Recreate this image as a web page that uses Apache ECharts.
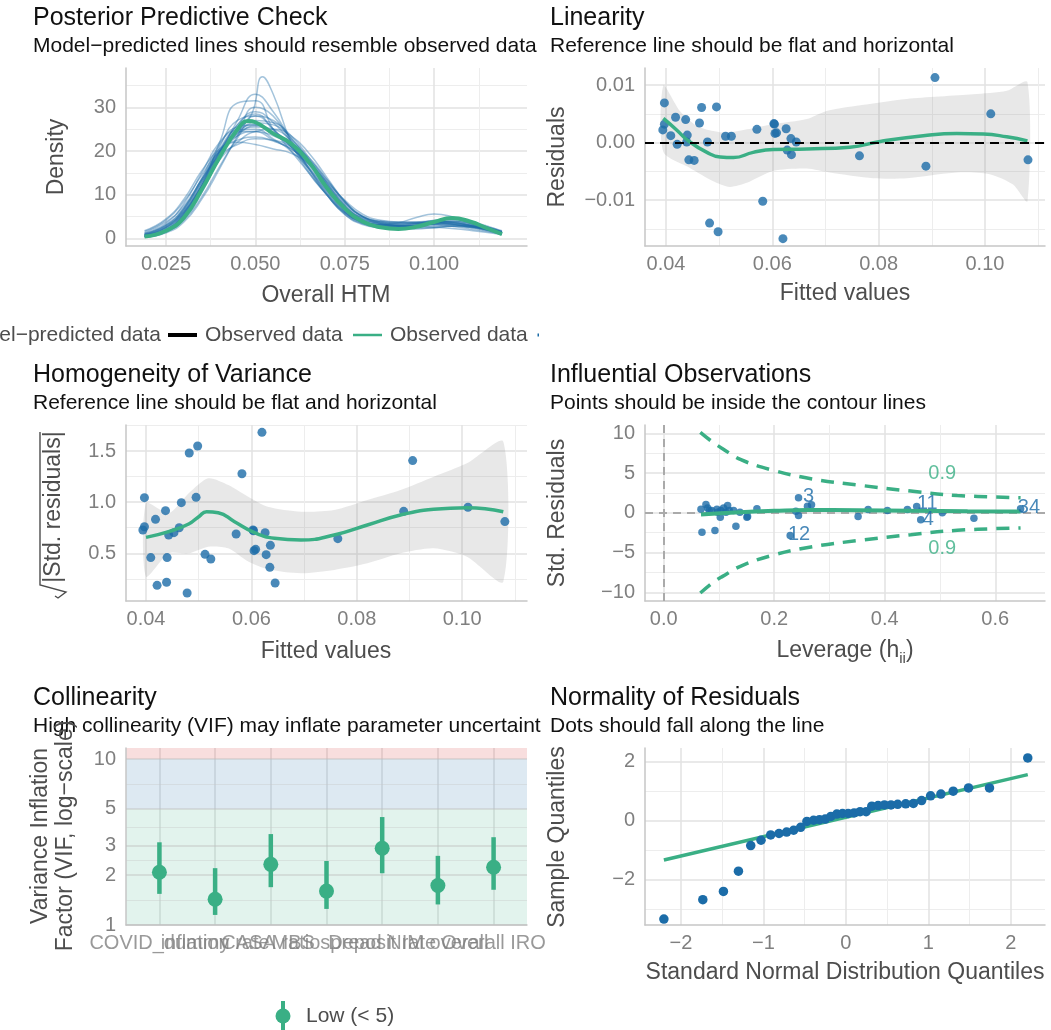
<!DOCTYPE html>
<html><head><meta charset="utf-8">
<script src="https://cdn.jsdelivr.net/npm/echarts@6/dist/echarts.min.js"></script>
<style>html,body{margin:0;padding:0;background:#fff}#c{width:1051px;height:1030px}</style>
</head><body><div id="c"></div>
<script>
// ---------------- DATA ----------------
// Posterior predictive check
const ppcX = [0.019,0.025,0.03,0.035,0.04,0.045,0.05,0.055,0.06,0.065,0.07,0.075,0.08,0.085,0.09,0.095,0.1,0.105,0.11,0.115,0.119];
const ppcPredicted = [
 [0.8,2.5,6.0,12.0,19.0,23.5,25.8,24.5,21.5,17.0,12.0,7.5,4.5,3.5,3.2,3.4,3.6,3.3,2.6,1.8,1.0],
 [1.2,3.5,8.0,15.0,22.0,24.8,25.0,22.8,20.0,16.0,11.0,7.0,4.8,4.0,3.8,3.6,3.2,2.8,2.2,1.6,1.0],
 [0.5,1.6,4.2,9.5,16.5,23.0,28.0,27.0,23.0,17.5,11.5,6.5,4.0,3.2,3.0,3.1,3.3,3.2,2.8,2.1,1.4],
 [1.8,4.5,9.0,15.5,20.5,22.5,23.2,22.3,20.5,17.0,12.5,8.0,5.0,3.8,3.4,3.5,3.8,3.6,3.0,2.2,1.5],
 [0.6,2.0,5.5,12.0,20.0,26.0,29.0,26.5,22.0,16.0,10.5,6.0,3.8,3.0,2.8,3.0,3.5,3.9,3.5,2.5,1.5],
 [1.0,3.0,6.5,13.0,19.5,24.0,26.5,26.0,23.0,18.0,12.0,7.0,4.2,3.2,3.0,3.4,4.2,4.5,3.8,2.6,1.6],
 [0.7,2.2,6.0,12.5,20.0,25.0,27.0,26.5,23.5,18.5,12.8,7.6,4.6,3.4,2.8,2.7,2.8,2.9,2.7,2.2,1.6],
 [1.3,3.8,7.5,13.5,19.0,21.5,22.8,22.5,21.0,18.0,13.5,8.5,5.0,3.5,3.2,3.6,4.0,3.8,3.1,2.3,1.5],
 [0.4,1.5,4.5,10.5,19.0,27.0,33.0,29.0,22.5,16.0,10.0,5.8,3.5,2.8,2.6,3.0,3.6,3.9,3.4,2.4,1.3],
 [0.9,2.8,6.2,12.0,18.0,22.0,24.5,25.0,23.5,19.5,14.0,8.5,5.0,3.8,3.6,3.8,4.0,3.7,3.0,2.0,1.2],
 [0.6,2.0,5.2,11.5,19.5,26.0,28.5,25.0,21.0,16.5,11.0,6.2,3.6,2.6,2.2,2.2,2.5,2.8,2.6,2.0,1.3],
 [1.1,3.2,7.0,13.5,20.5,24.5,24.5,22.5,20.5,17.5,13.0,8.2,5.0,3.6,3.0,2.8,2.6,2.3,1.9,1.4,0.9],
 [0.7,2.4,5.8,12.0,19.5,24.5,26.0,24.0,21.5,17.5,12.5,7.5,4.2,3.2,3.6,4.8,5.6,5.0,3.6,2.2,1.2],
 [0.9,2.6,6.5,13.0,20.0,24.0,25.5,25.0,22.5,18.0,12.0,7.0,4.0,3.0,2.6,2.4,2.5,2.9,3.0,2.6,1.8],
 [0.5,1.9,5.6,12.5,21.0,27.0,28.0,25.0,21.0,16.0,10.5,6.2,3.8,3.0,2.9,3.2,3.8,4.3,3.9,2.8,1.6],
 [1.6,4.2,8.5,14.5,20.0,22.0,21.5,20.5,19.5,17.0,13.0,8.8,5.6,4.2,3.8,3.8,3.6,3.2,2.6,1.9,1.2],
 [0.4,1.3,3.8,9.0,16.0,23.5,30.0,28.0,22.0,15.5,10.0,5.6,3.4,2.6,2.4,2.8,3.5,4.0,3.6,2.6,1.4],
 [0.6,2.0,5.5,12.0,22.0,31.0,31.5,25.0,20.0,15.0,10.0,6.0,3.8,3.0,2.8,3.0,3.4,3.6,3.2,2.3,1.3],
 [1.0,3.0,7.0,13.5,20.0,23.5,24.5,23.5,21.5,18.5,13.5,8.5,5.2,3.9,3.5,3.5,3.7,3.4,2.8,2.0,1.2],
 [0.8,2.6,6.8,13.8,21.5,25.5,26.0,24.0,21.0,17.5,12.2,7.2,4.4,3.3,2.9,2.9,3.1,3.2,2.9,2.2,1.3]
];
const ppcSpikeX = [0.019,0.025,0.03,0.035,0.04,0.045,0.049,0.052,0.055,0.06,0.065,0.07,0.075,0.08,0.085,0.09,0.095,0.1,0.105,0.11,0.115,0.119];
const ppcSpikeY = [0.5,1.6,4.8,11.0,19.0,24.5,28.5,37.0,33.0,22.0,15.0,10.0,5.5,3.2,2.5,2.4,2.8,3.4,3.5,3.0,2.0,1.1];
const ppcObsX = [0.019,0.025,0.03,0.035,0.04,0.045,0.048,0.05,0.055,0.06,0.065,0.07,0.075,0.08,0.085,0.09,0.095,0.1,0.105,0.11,0.115,0.119];
const ppcObsY = [0.46,1.8,4.8,11.2,18.6,25.0,26.9,26.6,24.0,21.7,17.5,11.6,6.9,3.9,2.6,2.2,2.7,3.8,4.7,3.9,2.3,1.0];

// Model observations (fitted / residuals / sqrt|std res|)
const fitted = [0.0394,0.0397,0.0397,0.0409,0.0418,0.0421,0.0437,0.0439,0.0440,0.0443,0.0453,0.0463,0.0467,0.0478,0.0482,0.0495,0.0498,0.0512,0.0523,0.0571,0.0582,0.0603,0.0604,0.0605,0.0608,0.0620,0.0626,0.0628,0.0635,0.0636,0.0645,0.0764,0.0889,0.0906,0.1011,0.1081];
const residuals = [0.0022,0.0069,0.0032,0.0012,0.0044,-0.0003,0.0040,0.0001,0.0013,-0.0030,-0.0031,0.0034,0.0061,0.0001,-0.0140,0.0062,-0.0155,0.0011,0.0011,0.0023,-0.0102,0.0033,0.0032,0.0016,0.0017,-0.0167,0.0024,-0.0013,0.0007,-0.0021,0.0001,-0.0023,-0.0041,0.0113,0.0050,-0.0030];
const sqrtAbsStdRes = [0.728,1.044,0.76,0.458,0.832,0.187,0.917,0.217,0.458,0.679,0.702,0.75,0.995,0.112,1.48,1.047,1.549,0.49,0.445,0.689,1.278,0.728,0.72,0.526,0.539,1.682,0.702,0.487,0.363,0.578,0.21,0.643,0.91,1.406,0.95,0.81];

// Linearity smooth + band
const linSmoothX = [0.0395,0.0420,0.0442,0.0477,0.0502,0.0527,0.0564,0.0602,0.0665,0.0746,0.0803,0.0884,0.0947,0.0997,0.1041,0.1080];
const linSmoothY = [0.0042,0.0022,0.0003,-0.0017,-0.0025,-0.0026,-0.0017,-0.0012,-0.0011,-0.0008,0.0002,0.0012,0.0016,0.0015,0.0010,0.0003];
const linUpperX = [0.0395,0.0426,0.0458,0.0489,0.0514,0.0552,0.0602,0.0665,0.0702,0.0759,0.0853,0.0978,0.1041,0.1080];
const linUpperY = [0.0099,0.0055,0.0029,0.0020,0.0017,0.0023,0.0032,0.0041,0.0055,0.0064,0.0076,0.0084,0.0090,0.0105];
const linLowerX = [0.0395,0.0445,0.0489,0.0520,0.0552,0.0602,0.0665,0.0708,0.0790,0.0853,0.0947,0.1009,0.1053,0.1080];
const linLowerY = [-0.0016,-0.0044,-0.0067,-0.0077,-0.0070,-0.0049,-0.0045,-0.0052,-0.0062,-0.0062,-0.0052,-0.0055,-0.0073,-0.0102];

// Homogeneity smooth + band
const homSmoothX = [0.0400,0.0443,0.0481,0.0500,0.0515,0.0537,0.0568,0.0606,0.0644,0.0694,0.0757,0.0820,0.0883,0.0946,0.1009,0.1078];
const homSmoothY = [0.656,0.712,0.787,0.858,0.907,0.897,0.809,0.702,0.647,0.630,0.679,0.777,0.875,0.930,0.946,0.907];
const homUpperX = [0.0400,0.0443,0.0481,0.0518,0.0556,0.0594,0.0631,0.0694,0.0757,0.0820,0.0883,0.0946,0.1009,0.1078];
const homUpperY = [0.989,0.891,1.086,1.233,1.168,1.054,0.956,0.907,0.923,1.021,1.119,1.249,1.379,1.591];
const homLowerX = [0.0400,0.0443,0.0481,0.0518,0.0556,0.0594,0.0631,0.0694,0.0757,0.0820,0.0883,0.0946,0.1009,0.1078];
const homLowerY = [0.272,0.500,0.500,0.565,0.549,0.419,0.344,0.305,0.337,0.402,0.500,0.549,0.467,0.223];

// Influential observations
const leverage = [0.0675,0.0693,0.0765,0.0795,0.0825,0.0867,0.0928,0.0964,0.0976,0.1024,0.1036,0.1084,0.1127,0.1157,0.1187,0.1265,0.1307,0.1380,0.1506,0.1518,0.1687,0.2289,0.2392,0.2440,0.2440,0.2602,0.2675,0.3518,0.3699,0.4048,0.4410,0.4578,0.4651,0.5042,0.5614,0.6458];
const stdResid = [0.46,-2.44,1.05,0.59,0.29,0.29,-2.23,0.46,0.08,-0.55,0.29,0.59,0.08,0.92,0.29,0.29,-1.68,0.08,-0.55,-0.46,0.50,-2.86,0.21,-0.34,1.89,0.84,1.01,-0.46,0.42,0.29,0.42,0.80,-0.88,0.00,-0.67,0.50];
const infSmoothX = [0.0675,0.1380,0.2000,0.2600,0.3500,0.4500,0.5500,0.6458];
const infSmoothY = [-0.21,0.08,0.25,0.35,0.33,0.25,0.20,0.17];
const cookUpperX = [0.0663,0.0886,0.1066,0.1398,0.1940,0.2663,0.3566,0.4470,0.5313,0.6458];
const cookUpperY = [10.13,8.9,8.07,6.68,5.42,4.29,3.45,2.73,2.18,1.9];
const cookLowerX = [0.0663,0.0886,0.1066,0.1398,0.1940,0.2663,0.3566,0.4470,0.5313,0.6458];
const cookLowerY = [-10.1,-8.8,-8.0,-6.7,-5.4,-4.3,-3.45,-2.75,-2.2,-1.9];
const infLabelText = ['3','12','11','4','34'];
const infLabelX = [0.262,0.245,0.477,0.479,0.661];
const infLabelY = [2.06,-2.77,1.13,-0.88,0.63];
const cookLabelX = [0.504,0.504];
const cookLabelY = [4.9,-4.5];

// Collinearity
const vifTerms = ['COVID_dummy','inflation rate','CASA ratio','MBS spread','Deposit rate','NIM overall','Overall IRO'];
const vifValue = [2.08,1.43,2.32,1.60,2.90,1.73,2.23];
const vifLow = [1.54,1.15,1.69,1.25,2.05,1.33,1.63];
const vifHigh = [3.15,2.20,3.53,2.43,4.47,2.61,3.38];
const vifTicks = [1,2,3,5,10];
const vifTickLabels = ['1','2','3','5','10'];
const vifMinorTicks = [1.414,2.449,3.873,7.071];

// Normality (QQ)
const qqTheo = [-2.206,-1.734,-1.484,-1.302,-1.153,-1.028,-0.911,-0.81,-0.718,-0.633,-0.548,-0.472,-0.391,-0.319,-0.25,-0.181,-0.109,-0.04,0.028,0.1,0.173,0.246,0.315,0.391,0.468,0.548,0.629,0.726,0.819,0.919,1.028,1.153,1.302,1.488,1.742,2.206];
const qqSample = [-3.35,-2.69,-2.41,-1.72,-0.85,-0.67,-0.49,-0.44,-0.39,-0.33,-0.23,-0.03,0.01,0.03,0.05,0.14,0.22,0.24,0.24,0.26,0.3,0.3,0.49,0.51,0.53,0.53,0.55,0.57,0.58,0.68,0.84,0.9,1.0,1.11,1.11,2.13];
const qqLineX = [-2.206,2.206];
const qqLineY = [-1.34,1.56];

// Tick values / labels
const ppcXTicks = [0.025,0.05,0.075,0.1], ppcXLabels = ['0.025','0.050','0.075','0.100'], ppcXMinor = [0.0375,0.0625,0.0875,0.1125];
const ppcYTicks = [0,10,20,30], ppcYLabels = ['0','10','20','30'], ppcYMinor = [5,15,25,35];
const fitXTicks = [0.04,0.06,0.08,0.10], fitXLabels = ['0.04','0.06','0.08','0.10'], fitXMinor = [0.05,0.07,0.09,0.11];
const linYTicks = [-0.01,0,0.01], linYLabels = ['\u22120.01','0.00','0.01'], linYMinor = [-0.015,-0.005,0.005];
const homYTicks = [0.5,1.0,1.5], homYLabels = ['0.5','1.0','1.5'], homYMinor = [0.25,0.75,1.25,1.75];
const infXTicks = [0,0.2,0.4,0.6], infXLabels = ['0.0','0.2','0.4','0.6'], infXMinor = [0.1,0.3,0.5];
const infYTicks = [-10,-5,0,5,10], infYLabels = ['\u221210','\u22125','0','5','10'], infYMinor = [-7.5,-2.5,2.5,7.5];
const qqXTicks = [-2,-1,0,1,2], qqXLabels = ['\u22122','\u22121','0','1','2'], qqXMinor = [-1.5,-0.5,0.5,1.5];
const qqYTicks = [-2,0,2], qqYLabels = ['\u22122','0','2'], qqYMinor = [-3,-1,1];

// ---------------- STYLE ----------------
const FONT = "'Liberation Sans', Arial, Helvetica, sans-serif";
const GREEN = '#3aaf85', BLUE = '#1b6ca8';
const TICK_C = '#7f7f7f', AXT_C = '#4d4d4d', TITLE_C = '#111';
const TICK = 20, AXT = 23, TITLE = 25, SUB = 21, LEG = 21;
const AXIS_LINE = '#c6c6c6', MAJ = '#e2e2e2', MIN = '#ededed';

const grids = [
  {left:126, top:68, width:401, height:178},
  {left:645, top:68, width:400, height:178},
  {left:126, top:425, width:401, height:176},
  {left:645, top:425, width:400, height:176},
  {left:126, top:748, width:401, height:177},
  {left:645, top:748, width:400, height:177}
].map(g => Object.assign({outerBoundsMode:'none', containLabel:false}, g));

function lab(majors, labels) {
  return v => { let b = 0; for (let i = 1; i < majors.length; i++) if (Math.abs(majors[i]-v) < Math.abs(majors[b]-v)) b = i; return labels[b]; };
}
function mkAxes(dim, g, min, max, majors, labels, minors, hideLabels) {
  const main = {
    type:'value', gridIndex:g, min, max, position: dim === 'x' ? 'bottom' : 'left',
    axisLine:{show:true, onZero:false, lineStyle:{color:AXIS_LINE, width:1.5}},
    axisTick:{show:false, customValues:majors},
    axisLabel:{show:!hideLabels, customValues:majors, formatter:lab(majors, labels), color:TICK_C, fontSize:TICK, fontFamily:FONT,
      margin: dim === 'x' ? 8 : 10, hideOverlap:false, showMinLabel:true, showMaxLabel:true},
    splitLine:{show:true, lineStyle:{color:MAJ, width:1.5}}
  };
  const minor = {
    type:'value', gridIndex:g, min, max, position: dim === 'x' ? 'bottom' : 'left',
    axisLine:{show:false, onZero:false}, axisTick:{show:false, customValues: minors.length ? minors : [max*2+1]}, axisLabel:{show:false},
    splitLine:{show: minors.length > 0, lineStyle:{color:MIN, width:1}}
  };
  return [main, minor];
}

const vifPos = vifTerms.map((t, i) => i + 1);
const xAxes = [].concat(
  mkAxes('x',0,0.0138,0.1260,ppcXTicks,ppcXLabels,ppcXMinor),
  mkAxes('x',1,0.03605,0.1113,fitXTicks,fitXLabels,fitXMinor),
  mkAxes('x',2,0.0362,0.1123,fitXTicks,fitXLabels,fitXMinor),
  mkAxes('x',3,-0.0338,0.69,infXTicks,infXLabels,infXMinor),
  mkAxes('x',4,0.4,7.6,vifPos,vifTerms,[],true),
  mkAxes('x',5,-2.435,2.415,qqXTicks,qqXLabels,qqXMinor)
);
const yAxes = [].concat(
  mkAxes('y',0,-1.7,39.0,ppcYTicks,ppcYLabels,ppcYMinor),
  mkAxes('y',1,-0.01798,0.01297,linYTicks,linYLabels,linYMinor),
  mkAxes('y',2,0.034,1.754,homYTicks,homYLabels,homYMinor),
  mkAxes('y',3,-11.1,11.05,infYTicks,infYLabels,infYMinor),
  [
    {type:'log', logBase:10, gridIndex:4, min:1, max:11.65, position:'left',
     axisLine:{show:true, onZero:false, lineStyle:{color:AXIS_LINE, width:1.5}},
     axisTick:{show:false}, axisLabel:{show:false}, splitLine:{show:false}},
    {type:'log', logBase:10, gridIndex:4, min:1, max:11.65, show:false, splitLine:{show:false}}
  ],
  mkAxes('y',5,-3.55,2.466,qqYTicks,qqYLabels,qqYMinor)
);

const zip = (a, b) => a.map((v, i) => [v, b[i]]);
function bandSeries(ax, upX, upY, loX, loY) {
  const up = zip(upX, upY), lo = zip(loX, loY);
  return {
    type:'custom', xAxisIndex:ax, yAxisIndex:ax, data:[[upX[0], upY[0]]], silent:true, z:1, clip:true,
    renderItem:(params, api) => {
      const pts = up.map(p => api.coord(p)).concat(lo.slice().reverse().map(p => api.coord(p)));
      return {type:'polygon', shape:{points:pts, smooth:0.25}, style:{fill:'rgba(140,140,140,0.2)'}};
    }
  };
}
const noMarkLabel = {show:false};
const PTS = 'rgba(27,108,168,0.8)';

const series = [];
// ---- PPC
const ppcLine = (xs, ys) => ({
  type:'line', xAxisIndex:0, yAxisIndex:0, data:zip(xs, ys), showSymbol:false, smooth:0.5,
  lineStyle:{color:'rgba(27,108,168,0.4)', width:1.5}, silent:true, z:2
});
ppcPredicted.forEach(arr => series.push(ppcLine(ppcX, arr)));
series.push(ppcLine(ppcSpikeX, ppcSpikeY));
series.push({type:'line', xAxisIndex:0, yAxisIndex:0, data:zip(ppcObsX, ppcObsY), showSymbol:false, smooth:0.5,
  lineStyle:{color:GREEN, width:4}, silent:true, z:4});

// ---- Linearity
series.push(bandSeries(2, linUpperX, linUpperY, linLowerX, linLowerY));
series.push({type:'scatter', xAxisIndex:2, yAxisIndex:2, data:zip(fitted, residuals), symbolSize:9,
  itemStyle:{color:PTS, opacity:1}, z:3,
  markLine:{silent:true, symbol:['none','none'], label:noMarkLabel, animation:false,
    lineStyle:{color:'#000', type:[9,6], width:2}, data:[{yAxis:0}]}});
series.push({type:'line', xAxisIndex:2, yAxisIndex:2, data:zip(linSmoothX, linSmoothY), showSymbol:false, smooth:0.5,
  lineStyle:{color:GREEN, width:3.5}, z:4});

// ---- Homogeneity
series.push(bandSeries(4, homUpperX, homUpperY, homLowerX, homLowerY));
series.push({type:'scatter', xAxisIndex:4, yAxisIndex:4, data:zip(fitted, sqrtAbsStdRes), symbolSize:9,
  itemStyle:{color:PTS, opacity:1}, z:3});
series.push({type:'line', xAxisIndex:4, yAxisIndex:4, data:zip(homSmoothX, homSmoothY), showSymbol:false, smooth:0.5,
  lineStyle:{color:GREEN, width:3.5}, z:4});

// ---- Influential
series.push({type:'line', xAxisIndex:6, yAxisIndex:6, data:zip(cookUpperX, cookUpperY), showSymbol:false, smooth:0.4,
  lineStyle:{color:GREEN, width:3.5, type:[13,9]}, z:2,
  markLine:{silent:true, symbol:['none','none'], label:noMarkLabel, animation:false, z:1,
    lineStyle:{color:'#aaaaaa', type:[8,6], width:2}, data:[{xAxis:0},{yAxis:0}]}});
series.push({type:'line', xAxisIndex:6, yAxisIndex:6, data:zip(cookLowerX, cookLowerY), showSymbol:false, smooth:0.4,
  lineStyle:{color:GREEN, width:3.5, type:[13,9]}, z:2});
series.push({type:'scatter', xAxisIndex:6, yAxisIndex:6, data:zip(leverage, stdResid), symbolSize:7.5,
  itemStyle:{color:PTS, opacity:1}, z:3});
series.push({type:'line', xAxisIndex:6, yAxisIndex:6, data:zip(infSmoothX, infSmoothY), showSymbol:false, smooth:0.5,
  lineStyle:{color:GREEN, width:4}, z:4});
series.push({type:'scatter', xAxisIndex:6, yAxisIndex:6, data:infLabelX.map((x,i) => [x, infLabelY[i], infLabelText[i]]),
  symbolSize:1, itemStyle:{color:'rgba(0,0,0,0)'}, z:5, silent:true, labelLayout:{hideOverlap:false},
  label:{show:true, position:'inside', formatter:p => p.value[2], color:BLUE, fontSize:20, fontFamily:FONT}});
series.push({type:'scatter', xAxisIndex:6, yAxisIndex:6, data:cookLabelX.map((x,i) => [x, cookLabelY[i]]),
  symbolSize:1, itemStyle:{color:'rgba(0,0,0,0)'}, z:5, silent:true,
  label:{show:true, position:'inside', formatter:() => '0.9', color:GREEN, fontSize:20, fontFamily:FONT}});

// ---- Collinearity
series.push({type:'line', xAxisIndex:8, yAxisIndex:8, data:[[1,1]], showSymbol:false, lineStyle:{opacity:0}, silent:true, z:1,
  markArea:{silent:true, animation:false, z:0, data:[
    [{yAxis:1, itemStyle:{color:'rgba(58,175,133,0.15)'}}, {yAxis:5}],
    [{yAxis:5, itemStyle:{color:'rgba(27,108,168,0.15)'}}, {yAxis:10}],
    [{yAxis:10, itemStyle:{color:'rgba(205,32,31,0.15)'}}, {yAxis:11.65}]
  ]},
  markLine:{silent:true, symbol:['none','none'], animation:false, z:1,
    data: vifTicks.map((v,i) => ({yAxis:v, lineStyle:{color:'rgba(190,190,190,0.55)', width:1.5, type:'solid'},
            label:{show:true, position:'start', distance:10, formatter:vifTickLabels[i], color:TICK_C, fontSize:TICK, fontFamily:FONT}}))
      .concat(vifMinorTicks.map(v => ({yAxis:v, lineStyle:{color:'rgba(200,200,200,0.4)', width:1, type:'solid'}, label:{show:false}})))
  }});
series.push({type:'custom', xAxisIndex:8, yAxisIndex:8, z:5,
  data: vifTerms.map((t,i) => [i+1, vifLow[i], vifHigh[i]]),
  encode:{x:0, y:[1,2]},
  renderItem:(params, api) => {
    const x = api.value(0);
    const a = api.coord([x, api.value(1)]), b = api.coord([x, api.value(2)]);
    return {type:'line', shape:{x1:a[0], y1:a[1], x2:b[0], y2:b[1]}, style:{stroke:GREEN, lineWidth:4.5}};
  }});
series.push({type:'scatter', xAxisIndex:8, yAxisIndex:8, data:vifValue.map((v,i) => [i+1, v]), symbolSize:15,
  itemStyle:{color:GREEN, opacity:1}, z:6});
// category names under the axis (all shown, overlapping as in the original)
series.push({type:'scatter', xAxisIndex:8, yAxisIndex:8, data:vifTerms.map((t,i) => [i+1, 1, t]), symbolSize:1,
  itemStyle:{color:'rgba(0,0,0,0)'}, z:6, silent:true, clip:false, labelLayout:{hideOverlap:false},
  label:{show:true, position:'bottom', distance:8, formatter:p => p.value[2], color:TICK_C, fontSize:TICK, fontFamily:FONT}});

// ---- Normality
series.push({type:'line', xAxisIndex:10, yAxisIndex:10, data:zip(qqLineX, qqLineY), showSymbol:false,
  lineStyle:{color:GREEN, width:3.5}, z:2});
series.push({type:'scatter', xAxisIndex:10, yAxisIndex:10, data:zip(qqTheo, qqSample), symbolSize:9.5,
  itemStyle:{color:BLUE, opacity:1}, z:3});

// ---------------- TEXT ----------------
function txt(x, y, s, size, color, extra) {
  return {type:'text', x, y, silent:true, z:10,
    style:Object.assign({text:s, fontSize:size, fontFamily:FONT, fill:color, align:'left', verticalAlign:'middle'}, extra || {})};
}
function vtxt(x, y, s, size, color) {
  return {type:'text', x, y, rotation:Math.PI/2, silent:true, z:10,
    style:{text:s, fontSize:size, fontFamily:FONT, fill:color, align:'center', verticalAlign:'middle'}};
}
const graphic = [
  txt(33, 18, 'Posterior Predictive Check', TITLE, TITLE_C),
  txt(33, 46, 'Model\u2212predicted lines should resemble observed data', SUB, TITLE_C),
  txt(550, 18, 'Linearity', TITLE, TITLE_C),
  txt(550, 46, 'Reference line should be flat and horizontal', SUB, TITLE_C),
  txt(33, 375, 'Homogeneity of Variance', TITLE, TITLE_C),
  txt(33, 403, 'Reference line should be flat and horizontal', SUB, TITLE_C),
  txt(550, 375, 'Influential Observations', TITLE, TITLE_C),
  txt(550, 403, 'Points should be inside the contour lines', SUB, TITLE_C),
  txt(33, 698, 'Collinearity', TITLE, TITLE_C),
  txt(33, 726, 'High collinearity (VIF) may inflate parameter uncertainty', SUB, TITLE_C, {width:512, overflow:'truncate', ellipsis:''}),
  txt(550, 698, 'Normality of Residuals', TITLE, TITLE_C),
  txt(550, 726, 'Dots should fall along the line', SUB, TITLE_C),
  // axis titles
  vtxt(57, 157, 'Density', AXT, AXT_C),
  txt(326, 296, 'Overall HTM', AXT, AXT_C, {align:'center'}),
  vtxt(558, 157, 'Residuals', AXT, AXT_C),
  txt(845, 294, 'Fitted values', AXT, AXT_C, {align:'center'}),
  vtxt(54, 507, '|Std. residuals|', AXT, AXT_C),
  {type:'polyline', silent:true, z:10, shape:{points:[[40,432],[40,585],[66,592],[58,598],[55,596]]}, style:{stroke:AXT_C, lineWidth:1.4, fill:null}},
  txt(326, 652, 'Fitted values', AXT, AXT_C, {align:'center'}),
  vtxt(558, 513, 'Std. Residuals', AXT, AXT_C),
  {type:'text', x:845, y:651, silent:true, z:10, style:{text:'{a|Leverage (h}{s|ii}{a|)}', align:'center', verticalAlign:'middle',
    rich:{a:{fontSize:AXT, fontFamily:FONT, fill:AXT_C, lineHeight:30}, s:{fontSize:15, fontFamily:FONT, fill:AXT_C, lineHeight:14, verticalAlign:'bottom'}}}},
  vtxt(41, 836, 'Variance Inflation', AXT, AXT_C),
  vtxt(66, 836, 'Factor (VIF, log\u2212scale)', AXT, AXT_C),
  vtxt(558, 837, 'Sample Quantiles', AXT, AXT_C),
  txt(845, 973, 'Standard Normal Distribution Quantiles', AXT, AXT_C, {align:'center'}),
  // PPC legend (clipped at the page edge)
  txt(161, 335, 'Model\u2212predicted data', LEG, AXT_C, {align:'right'}),
  {type:'line', silent:true, z:10, shape:{x1:168, y1:335, x2:197, y2:335}, style:{stroke:'#000', lineWidth:4}},
  txt(205, 335, 'Observed data', LEG, AXT_C),
  {type:'line', silent:true, z:10, shape:{x1:353, y1:335, x2:382, y2:335}, style:{stroke:GREEN, lineWidth:2.5}},
  txt(390, 335, 'Observed data', LEG, AXT_C),
  {type:'rect', silent:true, z:10, shape:{x:537.5, y:333.5, width:1.5, height:3}, style:{fill:BLUE}},
  // VIF legend
  {type:'line', silent:true, z:10, shape:{x1:283, y1:1001, x2:283, y2:1030}, style:{stroke:GREEN, lineWidth:4}},
  {type:'circle', silent:true, z:11, shape:{cx:283, cy:1016, r:7.5}, style:{fill:GREEN}},
  txt(306, 1016, 'Low (< 5)', LEG, AXT_C)
];

const chart = echarts.init(document.getElementById('c'), null, {renderer:'canvas'});
chart.setOption({
  animation:false,
  backgroundColor:'#fff',
  textStyle:{fontFamily:FONT},
  grid:grids, xAxis:xAxes, yAxis:yAxes, series, graphic
});
</script></body></html>
